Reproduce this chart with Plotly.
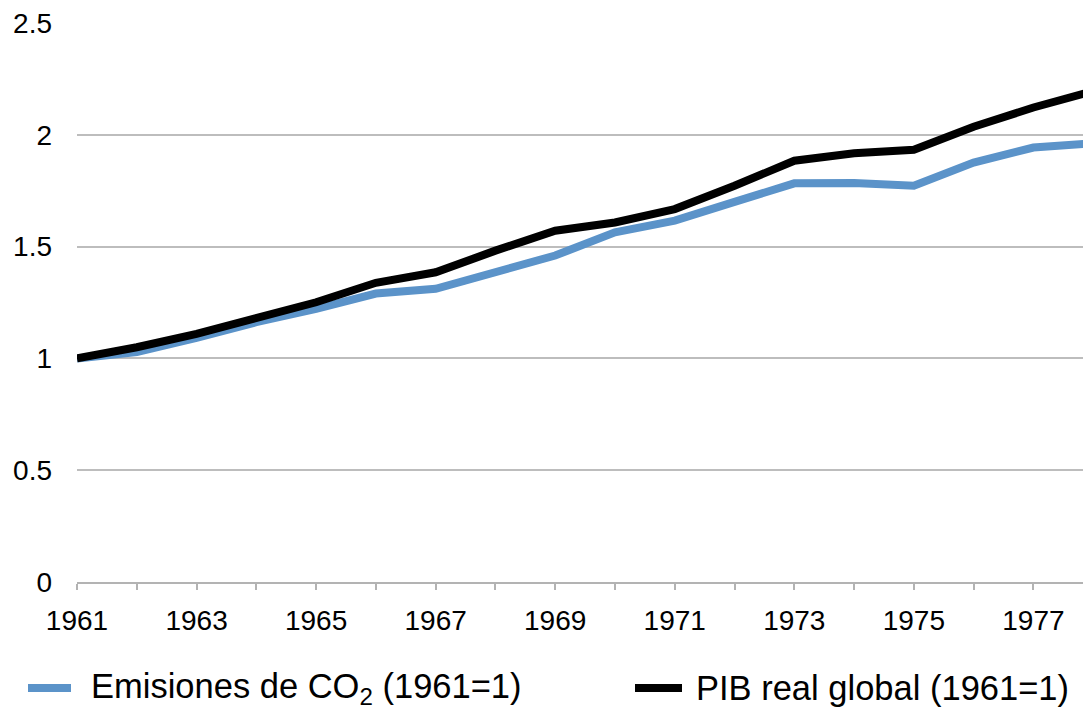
import plotly.graph_objects as go

# Annual series, indexed so that 1961 = 1
years = list(range(1961, 1979))
co2_index = [1.00, 1.028, 1.092, 1.162, 1.222, 1.29, 1.311, 1.382, 1.46, 1.564,
             1.616, 1.70, 1.783, 1.784, 1.772, 1.876, 1.943, 1.962]
gdp_index = [1.00, 1.05, 1.11, 1.184, 1.251, 1.338, 1.385, 1.482, 1.571, 1.608,
             1.668, 1.772, 1.884, 1.917, 1.933, 2.036, 2.122, 2.196]

x_tick_values = [1961, 1963, 1965, 1967, 1969, 1971, 1973, 1975, 1977]
x_tick_labels = ["1961", "1963", "1965", "1967", "1969", "1971", "1973", "1975", "1977"]
y_tick_values = [0, 0.5, 1, 1.5, 2, 2.5]
y_tick_labels = ["0", "0.5", "1", "1.5", "2", "2.5"]

series_names = ["Emisiones de CO<sub>2</sub> (1961=1)", "PIB real global (1961=1)"]
series_colors = ["#5B93C9", "#000000"]

FONT = "Liberation Sans, Arial, sans-serif"

fig = go.Figure()
fig.add_trace(go.Scatter(x=years, y=co2_index, mode="lines", name=series_names[0],
                         line=dict(color=series_colors[0], width=8), showlegend=False))
fig.add_trace(go.Scatter(x=years, y=gdp_index, mode="lines", name=series_names[1],
                         line=dict(color=series_colors[1], width=8), showlegend=False))

W, H = 1083, 709
ML, MR, MT, MB = 77, 0, 23, 127

fig.update_layout(
    width=W, height=H,
    margin=dict(l=ML, r=MR, t=MT, b=MB),
    paper_bgcolor="white", plot_bgcolor="white",
    font=dict(family=FONT, size=28, color="#000000"),
    xaxis=dict(
        range=[1961, 1977.83],
        tickmode="array", tickvals=x_tick_values, ticktext=x_tick_labels,
        ticks="outside", ticklen=6, tickwidth=1.5, tickcolor="#b3b3b3",
        minor=dict(ticks="outside", ticklen=6, tickwidth=1.5, tickcolor="#b3b3b3",
                   tick0=1961, dtick=1, showgrid=False),
        showline=True, linecolor="#b3b3b3", linewidth=2,
        showgrid=False, zeroline=False,
        ticklabelstandoff=6,
        tickfont=dict(size=28),
    ),
    yaxis=dict(
        range=[0, 2.5],
        tickmode="array", tickvals=y_tick_values, ticktext=y_tick_labels,
        showgrid=True, gridcolor="#bdbdbd", gridwidth=1.5,
        zeroline=False, showline=False, ticks="",
        ticklabelstandoff=24,
        tickfont=dict(size=28),
    ),
)

# Legend drawn below the plot: a line sample followed by its label
legend_y = 688
legend_items = [(28, 71, 89), (635, 682, 694)]
for (x0, x1, tx), name, color in zip(legend_items, series_names, series_colors):
    fig.add_shape(type="line", xref="paper", yref="paper",
                  x0=(x0 - ML) / (W - ML - MR), x1=(x1 - ML) / (W - ML - MR),
                  y0=(H - MB - legend_y) / (H - MT - MB), y1=(H - MB - legend_y) / (H - MT - MB),
                  line=dict(color=color, width=8))
    fig.add_annotation(xref="paper", yref="paper",
                       x=(tx - ML) / (W - ML - MR), y=(H - MB - legend_y) / (H - MT - MB),
                       xanchor="left", yanchor="middle", showarrow=False,
                       text=name, font=dict(family=FONT, size=34.5, color="#000000"))

fig.write_html("out.html")
